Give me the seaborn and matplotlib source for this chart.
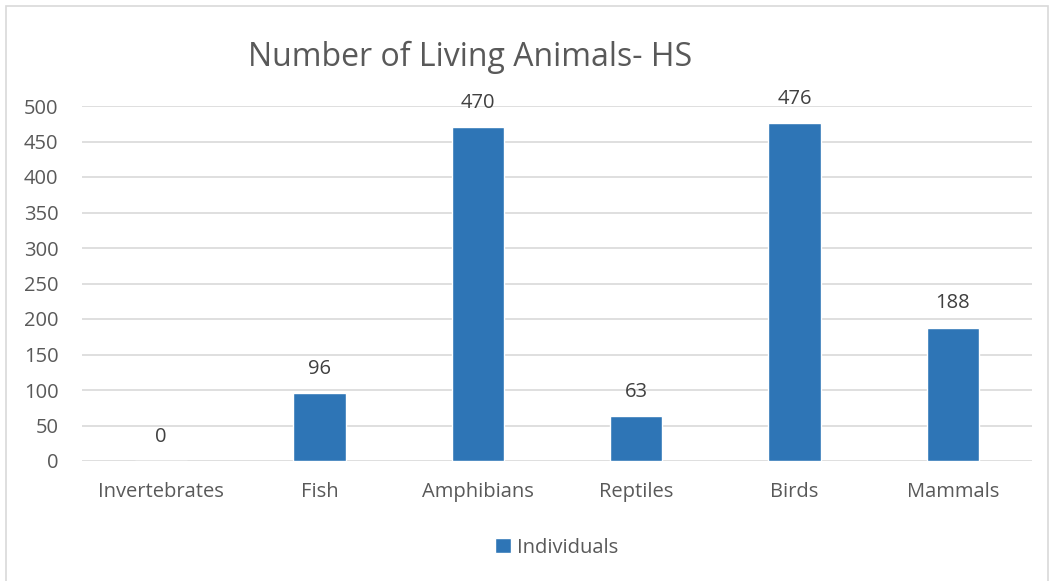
import matplotlib
matplotlib.use("Agg")
import matplotlib.pyplot as plt
import seaborn as sns
import pandas as pd
from matplotlib.patches import Rectangle

categories = ["Invertebrates", "Fish", "Amphibians", "Reptiles", "Birds", "Mammals"]
values = [0, 96, 470, 63, 476, 188]
yticks = [0, 50, 100, 150, 200, 250, 300, 350, 400, 450, 500]
series_name = "Individuals"
title = "Number of Living Animals- HS"

sns.set_theme(style="white")
plt.rcParams['font.family'] = ['Open Sans', 'DejaVu Sans']

df = pd.DataFrame({"cat": categories, "val": values, "series": series_name})

W, H = 1051, 581
fig = plt.figure(figsize=(W / 100, H / 100), dpi=100)
ax = fig.add_axes([82 / W, 1 - 461 / H, (1032 - 82) / W, (461 - 106) / H])

sns.barplot(data=df, x="cat", y="val", hue="series", palette=["#2E75B6"],
            width=0.33, ax=ax, saturation=1, legend=True)

ax.set_ylim(0, 500)
ax.set_xlim(-0.5, len(categories) - 0.5)
ax.set_yticks(yticks)
ax.yaxis.grid(True, color="#D9D9D9", linewidth=1.2)
ax.set_axisbelow(True)
for s in ax.spines.values():
    s.set_visible(False)
ax.set_xlabel("")
ax.set_ylabel("")
ax.tick_params(axis="both", length=0, labelsize=14.5, labelcolor="#595959")
ax.tick_params(axis="y", pad=17)
ax.tick_params(axis="x", pad=15)

for i, v in enumerate(values):
    ax.text(i, v + 34, str(v), ha="center", va="center", fontsize=14.5, color="#404040")

leg = ax.legend(loc="upper center", bbox_to_anchor=(0.5, -0.165), frameon=False,
                fontsize=14.5, handlelength=0.8, handleheight=0.8, handletextpad=0.3)
for t in leg.get_texts():
    t.set_color("#595959")

fig.text(470 / W, 1 - 57 / H, title, ha="center", va="center", fontsize=23, color="#595959")

fig.patches.append(Rectangle((6 / W, -0.05), (1048 - 6) / W, 1.05 - 6 / H,
                             transform=fig.transFigure, fill=False,
                             edgecolor="#D9D9D9", linewidth=1.2))

fig.savefig("out.png", dpi=100)
